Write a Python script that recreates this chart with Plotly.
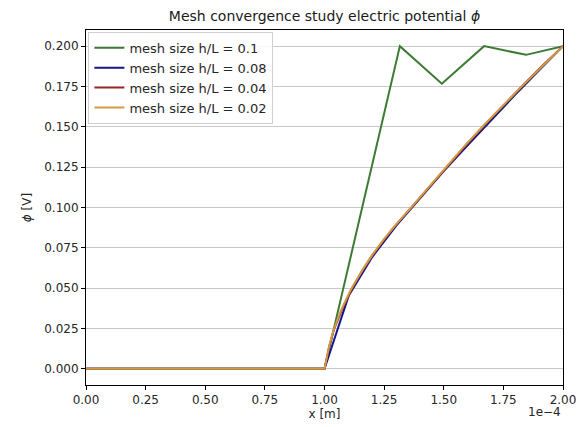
import plotly.graph_objects as go

# x positions in units of 1e-4 m, potential phi in V
x_h010 = [0.0, 0.5, 1.0, 1.316, 1.492, 1.669, 1.845, 2.0]
phi_h010 = [0.0, 0.0, 0.0, 0.200, 0.1767, 0.200, 0.1946, 0.200]

x_h008 = [0.0, 0.5, 1.0, 1.102, 1.20, 1.30, 1.40, 1.50, 1.60, 1.70, 1.80, 1.90, 2.0]
phi_h008 = [0.0, 0.0, 0.0, 0.0455, 0.0693, 0.0886, 0.1058, 0.1226, 0.1386, 0.1545, 0.1700, 0.1850, 0.200]

x_h004 = [0.0, 0.5, 1.0, 1.02, 1.04, 1.08, 1.12, 1.16, 1.20, 1.28, 1.36, 1.44, 1.52, 1.60, 1.68, 1.76, 1.84, 1.92, 2.0]
phi_h004 = [0.0, 0.0, 0.0, 0.0140, 0.0245, 0.0390, 0.0510, 0.0612, 0.0703, 0.0858, 0.0993, 0.1130, 0.1265, 0.1398, 0.1525, 0.1650, 0.1770, 0.1888, 0.200]

x_h002 = [0.0, 0.5, 1.0, 1.02, 1.04, 1.07, 1.11, 1.16, 1.20, 1.25, 1.30, 1.36, 1.43, 1.50, 1.58, 1.665, 1.75, 1.83, 1.92, 2.0]
phi_h002 = [0.0, 0.0, 0.0, 0.0145, 0.0250, 0.0365, 0.0490, 0.0615, 0.0705, 0.0805, 0.0895, 0.0995, 0.1115, 0.1235, 0.1370, 0.1505, 0.1635, 0.1755, 0.1885, 0.200]

series = [
    ("mesh size h/L = 0.1", x_h010, phi_h010, "#3d7a33"),
    ("mesh size h/L = 0.08", x_h008, phi_h008, "#14148f"),
    ("mesh size h/L = 0.04", x_h004, phi_h004, "#962727"),
    ("mesh size h/L = 0.02", x_h002, phi_h002, "#cf9c45"),
]

x_ticks = [0.0, 0.25, 0.5, 0.75, 1.0, 1.25, 1.5, 1.75, 2.0]
y_ticks = [0.0, 0.025, 0.05, 0.075, 0.1, 0.125, 0.15, 0.175, 0.2]

fig = go.Figure()
for name, xs, ys, color in series:
    fig.add_trace(go.Scatter(x=xs, y=ys, mode="lines", name=name,
                             line=dict(color=color, width=2)))

font = dict(family="DejaVu Sans", size=12, color="#262626")

fig.update_layout(
    width=584, height=427,
    margin=dict(l=86, r=21, t=30, b=42),
    plot_bgcolor="white", paper_bgcolor="white",
    font=font,
    title=dict(text="Mesh convergence study electric potential <i>ϕ</i>",
               x=(86 + 563) / 2 / 584, xanchor="center", y=1 - 16 / 427, yanchor="middle",
               font=dict(family="DejaVu Sans", size=14, color="#1a1a1a")),
    showlegend=True,
    legend=dict(x=0.005, y=0.995, xanchor="left", yanchor="top",
                bgcolor="rgba(255,255,255,0.85)", bordercolor="#d0d0d0", borderwidth=1,
                font=dict(family="DejaVu Sans", size=13, color="#262626"),
                tracegroupgap=0, itemwidth=30),
)

fig.update_xaxes(
    range=[0, 2], tickvals=x_ticks, ticktext=[f"{v:.2f}" for v in x_ticks],
    showgrid=False, zeroline=False, automargin=False,
    showline=True, linecolor="black", linewidth=1, mirror=True,
    ticks="outside", ticklen=4, tickcolor="black",
    title=dict(text="x [m]", standoff=2, font=font),
)
fig.update_yaxes(
    range=[-0.01, 0.21], tickvals=y_ticks, ticktext=[f"{v:.3f}" for v in y_ticks],
    showgrid=True, gridcolor="#c8c8c8", gridwidth=1, zeroline=False, automargin=False,
    showline=True, linecolor="black", linewidth=1, mirror=True,
    ticks="outside", ticklen=4, tickcolor="black",
    title=dict(text="<i>ϕ</i> [V]", standoff=10, font=font),
)

fig.add_annotation(text="1e−4", xref="paper", yref="paper", x=1.0, y=-0.052,
                   xanchor="right", yanchor="top", showarrow=False, font=font)

fig.write_html("out.html")
